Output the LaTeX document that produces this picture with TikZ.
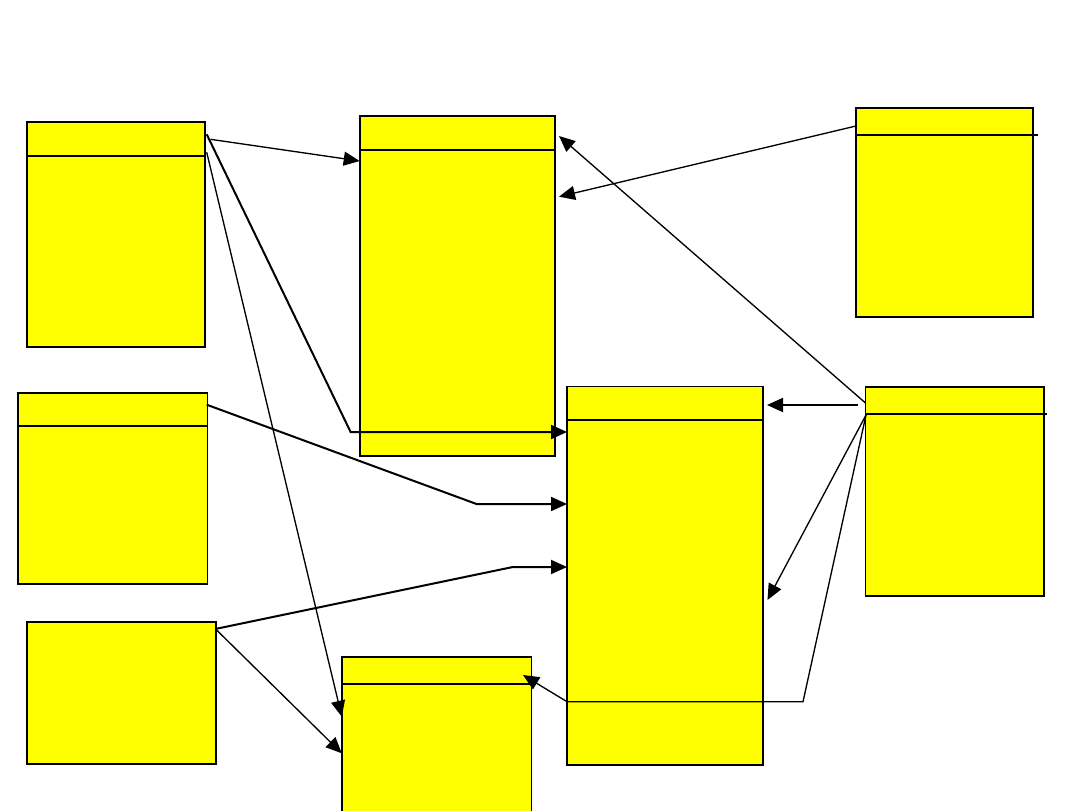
\documentclass[tikz,border=0pt]{standalone}
\usetikzlibrary{arrows.meta,fit,calc}
\definecolor{boxyellow}{RGB}{255,255,0}
\tikzset{
  box/.style={draw=black, fill=boxyellow, line width=1.25pt, inner sep=0pt, outer sep=0pt},
  hdr/.style={draw=black, line width=1.5pt},
  conn/.style={draw=black, line width=1pt, -{Triangle[length=12pt,width=10.5pt]}},
  thickconn/.style={conn, line width=1.5pt}
}
\begin{document}
\begin{tikzpicture}[x=0.75pt,y=-0.75pt]
\useasboundingbox (0,0) rectangle (1080,810);
\clip (0,0) rectangle (1080,810);
% boxes
\node[box, fit={(26.8,122.3) (204.7,347.3)}] (A) {};
\node[box, fit={(359.7,116.3) (555,456)}] (B) {};
\node[box, fit={(856,108) (1033,317)}] (C) {};
\node[box, fit={(18,392.7) (207.4,584)}] (D) {};
\node[box, fit={(567,386.5) (763,765.3)}] (E) {};
\node[box, fit={(865.5,386.7) (1044,596)}] (F) {};
\node[box, fit={(26.8,621.7) (216.2,764.3)}] (G) {};
\node[box, fit={(341.8,656.7) (531.6,816)}] (H) {};
% header lines
\draw[hdr] (A.west |- 0,155.7) -- (A.east |- 0,155.7);
\draw[hdr] (B.west |- 0,150) -- (B.east |- 0,150);
\draw[hdr] (C.west |- 0,134.5) -- (1037.5,134.5);
\draw[hdr] (D.west |- 0,425.7) -- (D.east |- 0,425.7);
\draw[hdr] (E.west |- 0,420) -- (E.east |- 0,420);
\draw[hdr] (F.west |- 0,413.5) -- (1047,413.5);
\draw[hdr] (H.west |- 0,683.7) -- (H.east |- 0,683.7);
% connector start points
\coordinate (a1) at (210.5,139.3);
\coordinate (a2) at (206.7,134.3);
\coordinate (a3) at (206.7,152.3);
\coordinate (d1) at (206.7,404.7);
\coordinate (g1) at (216.6,628.7);
\coordinate (g2) at (216.6,630);
\coordinate (c1) at (856,126);
\coordinate (f1) at (865.5,403);
\coordinate (f2) at (857.6,405);
\coordinate (f3) at (866,415);
% connectors
\draw[conn] (a1) -- (B.west |- 0,161);
\draw[thickconn] (a2) -- (350.6,432) -- (E.west |- 0,432);
\draw[conn] (a3) -- (H.west |- 0,716.7);
\draw[thickconn] (d1) -- (476.5,504) -- (E.west |- 0,504);
\draw[thickconn] (g1) -- (512.8,567) -- (E.west |- 0,567);
\draw[conn] (g2) -- (H.west |- 0,753.3);
\draw[conn] (c1) -- ($(B.east |- 0,196.7)+(4,0)$);
\draw[conn] (f1) -- ($(B.east |- 0,136)+(4,0)$);
\draw[thickconn] (f2) -- ($(E.east |- 0,405)+(4,0)$);
\draw[conn] (f3) -- ($(E.east |- 0,600)+(4.5,0)$);
\draw[conn] (f3) -- (803,701.7) -- (E.west |- 0,701.7) -- (523,675);
\end{tikzpicture}
\end{document}
